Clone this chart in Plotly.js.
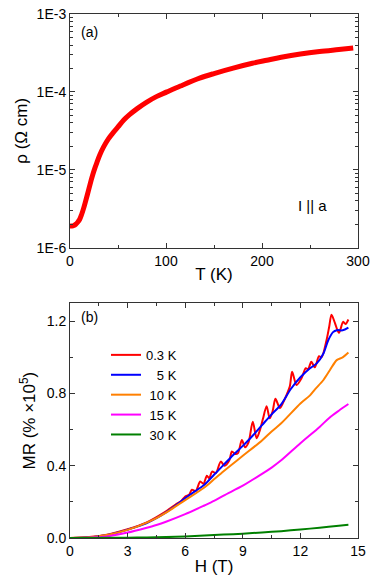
<!DOCTYPE html>
<html>
<head>
<meta charset="utf-8">
<script src="https://cdn.plot.ly/plotly-3.0.1.min.js"></script>
<style>
  body { margin: 0; background: #fff; }
  #chart { width: 374px; height: 580px; }
</style>
</head>
<body>
<div id="chart"></div>
<script>
// (a) resistivity vs temperature
var T = [0, 2, 4, 6, 8, 10, 12, 14, 16, 18, 20, 22, 24, 26, 28, 31, 35, 40, 45, 50, 56, 62, 70, 80, 90, 101, 115, 135, 150, 170, 190, 205, 220, 240, 260, 280, 295];
var rho = [1.9e-6, 1.9e-6, 1.93e-6, 2.0e-6, 2.12e-6, 2.3e-6, 2.65e-6, 3.15e-6, 3.85e-6, 4.75e-6, 5.9e-6, 7.3e-6, 8.9e-6, 1.06e-5, 1.24e-5, 1.55e-5, 1.97e-5, 2.5e-5, 3.0e-5, 3.55e-5, 4.35e-5, 5.1e-5, 6.1e-5, 7.4e-5, 8.7e-5, 1.0e-4, 1.19e-4, 1.5e-4, 1.72e-4, 2.02e-4, 2.33e-4, 2.55e-4, 2.78e-4, 3.06e-4, 3.3e-4, 3.5e-4, 3.66e-4];
var rhoTickVals = [1e-6, 1e-5, 1e-4, 1e-3];
var rhoTickText = ['1E-6', '1E-5', '1E-4', '1E-3'];

// (b) magnetoresistance vs field
var H_03 = [0, 1, 2, 3, 4, 5, 5.5, 5.8, 6.0, 6.2, 6.35, 6.55, 6.78, 6.95, 7.13, 7.25, 7.4, 7.6, 7.85, 8.05, 8.3, 8.43, 8.6, 8.75, 8.95, 9.12, 9.3, 9.52, 9.72, 9.9, 10.05, 10.24, 10.4, 10.55, 10.7, 10.93, 11.1, 11.27, 11.45, 11.57, 11.8, 12.05, 12.28, 12.4, 12.57, 12.75, 12.97, 13.1, 13.36, 13.5, 13.62, 13.8, 14.0, 14.1, 14.22, 14.35, 14.5];
var MR_03 = [0, 0.005, 0.02, 0.048, 0.087, 0.148, 0.185, 0.205, 0.23, 0.24, 0.267, 0.26, 0.313, 0.3, 0.345, 0.33, 0.368, 0.36, 0.423, 0.4, 0.43, 0.479, 0.465, 0.47, 0.543, 0.503, 0.53, 0.644, 0.552, 0.6, 0.66, 0.73, 0.663, 0.7, 0.771, 0.72, 0.75, 0.79, 0.84, 0.92, 0.847, 0.883, 0.94, 0.935, 0.976, 0.945, 1.007, 1.0, 1.095, 1.17, 1.237, 1.19, 1.136, 1.16, 1.197, 1.185, 1.21];
var H_5 = [0, 0.5, 1, 1.5, 2, 2.5, 3, 3.5, 4, 4.5, 5, 5.5, 6, 6.5, 7, 7.5, 8, 8.5, 9, 9.5, 10, 10.5, 11, 11.5, 12, 12.5, 12.85, 13.2, 13.45, 13.7, 13.9, 14.2, 14.5];
var MR_5 = [0, 0.001, 0.004, 0.01, 0.018, 0.03, 0.046, 0.063, 0.083, 0.11, 0.142, 0.18, 0.221, 0.258, 0.295, 0.35, 0.405, 0.46, 0.51, 0.565, 0.625, 0.685, 0.74, 0.825, 0.89, 0.94, 0.967, 1.022, 1.095, 1.14, 1.151, 1.15, 1.165];
var H_10 = [0, 1, 1.5, 2, 3, 4, 4.5, 5, 6, 7, 7.5, 8, 9, 10, 10.5, 11, 12, 12.5, 12.76, 13.2, 13.54, 13.89, 14.2, 14.5];
var MR_10 = [0, 0.004, 0.01, 0.018, 0.045, 0.085, 0.11, 0.14, 0.21, 0.28, 0.325, 0.37, 0.455, 0.54, 0.59, 0.635, 0.745, 0.79, 0.823, 0.875, 0.93, 0.985, 1.0, 1.027];
var H_15 = [0, 1, 2, 3, 4, 4.5, 5, 6, 7, 7.5, 8, 9, 10, 10.5, 11, 12, 13, 13.5, 14, 14.5];
var MR_15 = [0, 0.002, 0.01, 0.03, 0.057, 0.072, 0.09, 0.132, 0.18, 0.205, 0.235, 0.29, 0.355, 0.39, 0.43, 0.525, 0.615, 0.665, 0.705, 0.742];
var H_30 = [0, 2, 3, 4, 5, 6, 7, 8, 9, 10, 11, 12, 13, 14, 14.5];
var MR_30 = [0, 0.001, 0.002, 0.003, 0.005, 0.009, 0.014, 0.019, 0.024, 0.031, 0.038, 0.047, 0.057, 0.068, 0.073];

var names = ['0.3 K', '\u00a0\u00a0\u00a05 K', '\u00a010 K', '\u00a015 K', '\u00a030 K'];
var colors = ['#ff0000', '#0000ff', '#ff8000', '#ff00ff', '#008000'];
var Hs = [H_03, H_5, H_10, H_15, H_30];
var MRs = [MR_03, MR_5, MR_10, MR_15, MR_30];

var font = 'Liberation Sans, Arial, sans-serif';
var axisColor = '#333';

var traces = [{
    x: T, y: rho, xaxis: 'x', yaxis: 'y',
    type: 'scatter', mode: 'lines',
    line: {color: '#ff0000', width: 5, shape: 'spline', smoothing: 1},
    showlegend: false
}];
for (var i = 0; i < names.length; i++) {
    traces.push({
        x: Hs[i], y: MRs[i], xaxis: 'x2', yaxis: 'y2',
        type: 'scatter', mode: 'lines', name: names[i],
        line: {color: colors[i], width: 2, shape: 'spline', smoothing: 0.8}
    });
}

function frame(extra) {
    var ax = {
        showline: true, linecolor: axisColor, linewidth: 1, mirror: 'ticks',
        ticks: 'inside', ticklen: 5, tickcolor: axisColor,
        showgrid: false, zeroline: false,
        tickfont: {family: font, size: 14, color: '#000'}
    };
    for (var k in extra) ax[k] = extra[k];
    return ax;
}

var layout = {
    width: 374, height: 580,
    margin: {l: 70, r: 16, t: 14, b: 42},
    paper_bgcolor: '#fff', plot_bgcolor: '#fff',
    font: {family: font, color: '#000'},
    xaxis: frame({
        domain: [0, 1], anchor: 'y', range: [0, 300],
        tickvals: [0, 100, 200, 300],
        minor: {tickvals: [50, 150, 250], ticks: 'inside', ticklen: 3, tickcolor: axisColor},
        title: {text: 'T (K)', font: {family: font, size: 17}, standoff: 0}
    }),
    yaxis: frame({
        domain: [0.554, 1], anchor: 'x', type: 'log', range: [-6, -3],
        tickvals: rhoTickVals, ticktext: rhoTickText,
        minor: {
            tickvals: [2e-6, 3e-6, 4e-6, 5e-6, 6e-6, 7e-6, 8e-6, 9e-6,
                       2e-5, 3e-5, 4e-5, 5e-5, 6e-5, 7e-5, 8e-5, 9e-5,
                       2e-4, 3e-4, 4e-4, 5e-4, 6e-4, 7e-4, 8e-4, 9e-4],
            ticks: 'inside', ticklen: 3, tickcolor: axisColor
        },
        title: {text: '\u03c1 (\u03a9 cm)', font: {family: font, size: 17}, standoff: 4}
    }),
    xaxis2: frame({
        domain: [0, 1], anchor: 'y2', range: [0, 15],
        tickvals: [0, 3, 6, 9, 12, 15],
        minor: {dtick: 1.5, ticks: 'inside', ticklen: 3, tickcolor: axisColor},
        title: {text: 'H (T)', font: {family: font, size: 17}, standoff: 2}
    }),
    yaxis2: frame({
        domain: [0, 0.448], anchor: 'x2', range: [0, 1.3],
        tickvals: [0, 0.4, 0.8, 1.2], ticktext: ['0.0', '0.4', '0.8', '1.2'],
        minor: {dtick: 0.2, ticks: 'inside', ticklen: 3, tickcolor: axisColor},
        title: {text: 'MR (% \u00d710<sup>5</sup>)', font: {family: font, size: 17}, standoff: 6}
    }),
    showlegend: true,
    legend: {
        x: 0.125, y: 0.378, xanchor: 'left', yanchor: 'top',
        bgcolor: 'rgba(0,0,0,0)', borderwidth: 0,
        font: {family: font, size: 13, color: '#000'},
        tracegroupgap: 0
    },
    annotations: [
        {text: '(a)', xref: 'paper', yref: 'paper', x: 0.03, y: 0.985, xanchor: 'left', yanchor: 'top', showarrow: false, font: {family: font, size: 14}},
        {text: '(b)', xref: 'paper', yref: 'paper', x: 0.03, y: 0.44, xanchor: 'left', yanchor: 'top', showarrow: false, font: {family: font, size: 14}},
        {text: 'I || a', xref: 'paper', yref: 'paper', x: 0.785, y: 0.635, xanchor: 'left', yanchor: 'middle', showarrow: false, font: {family: font, size: 15}}
    ]
};

Plotly.newPlot('chart', traces, layout, {displayModeBar: false, staticPlot: true});
</script>
</body>
</html>
